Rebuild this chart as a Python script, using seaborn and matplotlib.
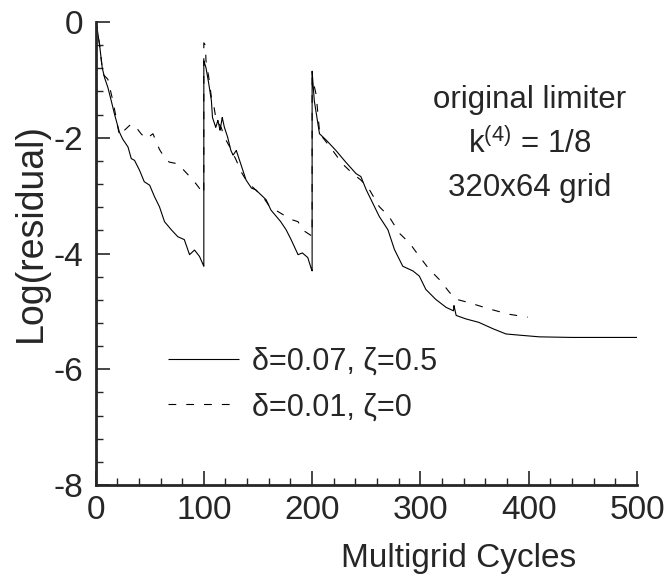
import numpy as np
import pandas as pd
import matplotlib
matplotlib.use("Agg")
import matplotlib.pyplot as plt
from matplotlib.ticker import MultipleLocator
import seaborn as sns

# delta=0.07, zeta=0.5 (solid)
solid_cycles = [0, 1, 3.7, 6.2, 8.3, 11.4, 14.5, 17.5, 22, 25, 30, 33, 36, 40.6, 45, 50, 54.5, 59,
                63.7, 70, 76, 82, 86.8, 91.4, 96, 100,
                100, 102, 104.6, 107, 108, 111, 113, 115, 117, 119, 122, 125, 127, 130, 133, 136,
                139, 144, 148, 153, 157.5, 162, 167, 171, 176, 180.6, 187, 191, 196, 199, 200,
                200, 202, 206.8, 213, 222, 231, 240.6, 245, 250, 256, 262, 270, 276, 283.7, 293,
                299, 305, 314, 323.7, 330.5, 331, 333, 342, 354, 367, 379, 391, 410, 440, 470, 500]
solid_resid = [0, -0.05, -0.39, -0.79, -0.96, -1.13, -1.36, -1.59, -1.90, -2.02, -2.16, -2.36, -2.39,
               -2.56, -2.76, -2.82, -3.02, -3.19, -3.45, -3.59, -3.71, -3.76, -4.02, -3.94, -4.05, -4.22,
               -0.67, -0.79, -1.07, -1.36, -1.65, -1.82, -1.70, -1.87, -1.65, -1.82, -1.99, -2.22,
               -2.30, -2.22, -2.39, -2.56, -2.73, -2.87, -2.90, -2.99, -3.07, -3.25, -3.36, -3.45,
               -3.59, -3.76, -4.02, -3.99, -4.07, -4.25, -4.30,
               -0.85, -1.36, -1.93, -2.04, -2.22, -2.42, -2.62, -2.67, -2.90, -3.13, -3.36, -3.59,
               -3.93, -4.22, -4.30, -4.39, -4.62, -4.79, -4.93, -4.99, -4.90, -5.07, -5.13, -5.19,
               -5.30, -5.39, -5.41, -5.44, -5.45, -5.45, -5.45]

# delta=0.01, zeta=0 (dashed)
dashed_cycles = [0, 1, 3.7, 6.8, 11.4, 13.5, 16, 19, 22, 25, 33, 37.5, 42, 46.8, 53, 59, 64, 68,
                 76, 81, 87, 93, 99, 100,
                 100, 101.5, 102, 104.6, 107, 109, 111, 116, 119, 124, 130, 134.5, 139, 145, 154.5,
                 162, 168, 176, 182, 187, 191, 197.5, 200,
                 200, 203.7, 207.3, 210, 219, 228, 237.5, 245, 253, 262, 271, 280.6, 290, 299, 308,
                 317.5, 326.8, 333, 345, 364, 382, 399]
dashed_resid = [0, -0.05, -0.39, -0.90, -0.99, -1.16, -1.36, -1.65, -1.96, -1.90, -1.76, -1.82,
                -1.93, -2.02, -1.93, -2.20, -2.35, -2.42, -2.45, -2.55, -2.67, -2.80, -2.95, -2.97,
                -0.36, -0.40, -0.67, -0.96, -1.30, -1.42, -1.65, -1.82, -1.99, -2.16, -2.39, -2.59,
                -2.73, -2.85, -3.02, -3.22, -3.27, -3.36, -3.42, -3.45, -3.59, -3.67, -3.70,
                -0.95, -1.25, -1.99, -2.00, -2.22, -2.45, -2.62, -2.73, -2.90, -3.19, -3.36, -3.65,
                -3.82, -4.05, -4.27, -4.45, -4.67, -4.79, -4.85, -4.96, -5.05, -5.10]

labels = ["δ=0.07, ζ=0.5", "δ=0.01, ζ=0"]
notes = ["original limiter", "k$^{(4)}$ = 1/8", "320x64 grid"]

df = pd.concat([
    pd.DataFrame({"cycles": solid_cycles, "resid": solid_resid, "case": labels[0]}),
    pd.DataFrame({"cycles": dashed_cycles, "resid": dashed_resid, "case": labels[1]}),
], ignore_index=True)

sns.set_style("ticks")
plt.rcParams["font.family"] = ["Liberation Sans", "DejaVu Sans"]
plt.rcParams["mathtext.fontset"] = "custom"
plt.rcParams["mathtext.rm"] = "Liberation Sans"
plt.rcParams["mathtext.it"] = "Liberation Sans"
plt.rcParams["axes.unicode_minus"] = False

fig = plt.figure(figsize=(6.68, 5.84), dpi=100)
ax = fig.add_axes([0.143, 0.1695, 0.8106, 0.7928])

sns.lineplot(data=df, x="cycles", y="resid", hue="case", style="case",
             palette=["black", "black"], dashes=[(1, 0), (7, 9)],
             sort=False, estimator=None, linewidth=0.8, ax=ax)

ax.set_xlim(0, 500)
ax.set_ylim(-8, 0)
ax.xaxis.set_major_locator(MultipleLocator(100))
ax.xaxis.set_minor_locator(MultipleLocator(20))
ax.yaxis.set_major_locator(MultipleLocator(2))
ax.yaxis.set_minor_locator(MultipleLocator(0.4))
ax.tick_params(which="major", direction="in", length=10, width=1.2, labelsize=24, pad=7)
ax.tick_params(which="minor", direction="in", length=5, width=1.0)
ax.tick_params(axis="y", which="major", pad=9)
for s in ["top", "right"]:
    ax.spines[s].set_visible(False)
for s in ["left", "bottom"]:
    ax.spines[s].set_linewidth(2.0)

ax.set_xlabel("Multigrid Cycles", fontsize=24)
ax.xaxis.label.set_va("center")
ax.xaxis.set_label_coords(0.670, -0.158)
ax.set_ylabel("Log(residual)", fontsize=27)
ax.yaxis.label.set_va("center")
ax.yaxis.set_label_coords(-0.119, 0.545)

ax.legend(title=None, frameon=False, loc="center left", bbox_to_anchor=(0.083, 0.217),
          fontsize=22, handlelength=2.32, handletextpad=0.42, labelspacing=0.5)

note_y = [0.832, 0.737, 0.641]
for t, y in zip(notes, note_y):
    ax.text(0.802, y, t, transform=ax.transAxes, ha="center", va="center", fontsize=22.5)

fig.savefig("out.png", dpi=100)
